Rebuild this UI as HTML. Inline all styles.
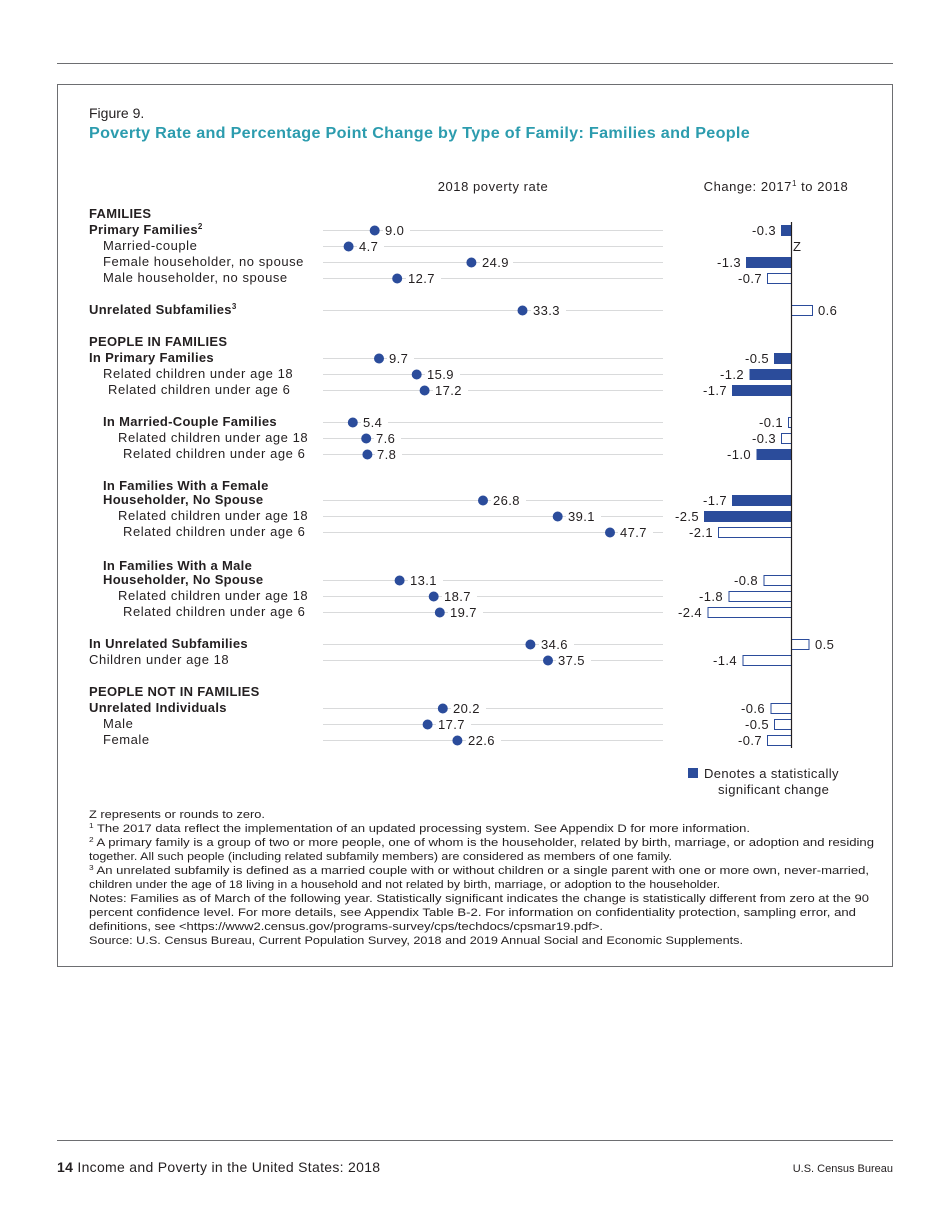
<!DOCTYPE html>
<html><head><meta charset="utf-8"><style>
html,body{margin:0;padding:0;background:#fff}
svg{display:block}
text{font-family:"Liberation Sans",sans-serif;fill:#231f20}
.l{font-size:13px;letter-spacing:0.55px}
.b{font-weight:bold;letter-spacing:0.3px}
.v{font-size:13px;fill:#808285;letter-spacing:0.4px}
.c{font-size:13px;letter-spacing:0.4px}
.f{font-size:11px}
</style></head><body>
<svg width="950" height="1230" viewBox="0 0 950 1230" xmlns="http://www.w3.org/2000/svg">
<line x1="57" y1="63.5" x2="893" y2="63.5" stroke="#6d6e71" stroke-width="1"/>
<rect x="57.5" y="84.5" width="835" height="882" fill="none" stroke="#6d6e71" stroke-width="1"/>
<text x="89" y="118" style="font-size:14px">Figure 9.</text>
<text x="89" y="138" class="b" style="font-size:16px;fill:#2c9cae" textLength="661" lengthAdjust="spacingAndGlyphs">Poverty Rate and Percentage Point Change by Type of Family: Families and People</text>
<text x="493" y="191" class="l" text-anchor="middle">2018 poverty rate</text>
<text x="776" y="191" class="l" text-anchor="middle">Change: 2017<tspan font-size="8" dy="-5">1</tspan><tspan dy="5"> to 2018</tspan></text>

<g class="l">
<text x="89" y="218" class="b">FAMILIES</text>
<text x="89" y="234" class="b">Primary Families<tspan font-size="8" dy="-5">2</tspan></text>
<text x="103" y="250">Married-couple</text>
<text x="103" y="266">Female householder, no spouse</text>
<text x="103" y="282">Male householder, no spouse</text>
<text x="89" y="314" class="b">Unrelated Subfamilies<tspan font-size="8" dy="-5">3</tspan></text>
<text x="89" y="346" class="b">PEOPLE IN FAMILIES</text>
<text x="89" y="362" class="b">In Primary Families</text>
<text x="103" y="378">Related children under age 18</text>
<text x="108" y="394">Related children under age 6</text>
<text x="103" y="426" class="b">In Married-Couple Families</text>
<text x="118" y="442">Related children under age 18</text>
<text x="123" y="458">Related children under age 6</text>
<text x="103" y="490" class="b">In Families With a Female</text>
<text x="103" y="504" class="b">Householder, No Spouse</text>
<text x="118" y="520">Related children under age 18</text>
<text x="123" y="536">Related children under age 6</text>
<text x="103" y="570" class="b">In Families With a Male</text>
<text x="103" y="584" class="b">Householder, No Spouse</text>
<text x="118" y="600">Related children under age 18</text>
<text x="123" y="616">Related children under age 6</text>
<text x="89" y="648" class="b">In Unrelated Subfamilies</text>
<text x="89" y="664">Children under age 18</text>
<text x="89" y="696" class="b">PEOPLE NOT IN FAMILIES</text>
<text x="89" y="712" class="b">Unrelated Individuals</text>
<text x="103" y="728">Male</text>
<text x="103" y="744">Female</text>
</g>

<g stroke="#d9dadb" stroke-width="1">
<line x1="323" y1="230.5" x2="663" y2="230.5"/>
<line x1="323" y1="246.5" x2="663" y2="246.5"/>
<line x1="323" y1="262.5" x2="663" y2="262.5"/>
<line x1="323" y1="278.5" x2="663" y2="278.5"/>
<line x1="323" y1="310.5" x2="663" y2="310.5"/>
<line x1="323" y1="358.5" x2="663" y2="358.5"/>
<line x1="323" y1="374.5" x2="663" y2="374.5"/>
<line x1="323" y1="390.5" x2="663" y2="390.5"/>
<line x1="323" y1="422.5" x2="663" y2="422.5"/>
<line x1="323" y1="438.5" x2="663" y2="438.5"/>
<line x1="323" y1="454.5" x2="663" y2="454.5"/>
<line x1="323" y1="500.5" x2="663" y2="500.5"/>
<line x1="323" y1="516.5" x2="663" y2="516.5"/>
<line x1="323" y1="532.5" x2="663" y2="532.5"/>
<line x1="323" y1="580.5" x2="663" y2="580.5"/>
<line x1="323" y1="596.5" x2="663" y2="596.5"/>
<line x1="323" y1="612.5" x2="663" y2="612.5"/>
<line x1="323" y1="644.5" x2="663" y2="644.5"/>
<line x1="323" y1="660.5" x2="663" y2="660.5"/>
<line x1="323" y1="708.5" x2="663" y2="708.5"/>
<line x1="323" y1="724.5" x2="663" y2="724.5"/>
<line x1="323" y1="740.5" x2="663" y2="740.5"/>
</g>

<g fill="#2b4c9b">
<circle cx="374.7" cy="230.5" r="5"/><circle cx="348.6" cy="246.5" r="5"/><circle cx="471.4" cy="262.5" r="5"/><circle cx="397.2" cy="278.5" r="5"/>
<circle cx="522.5" cy="310.5" r="5"/>
<circle cx="379" cy="358.5" r="5"/><circle cx="416.7" cy="374.5" r="5"/><circle cx="424.6" cy="390.5" r="5"/>
<circle cx="352.8" cy="422.5" r="5"/><circle cx="366.2" cy="438.5" r="5"/><circle cx="367.4" cy="454.5" r="5"/>
<circle cx="483" cy="500.5" r="5"/><circle cx="557.7" cy="516.5" r="5"/><circle cx="610" cy="532.5" r="5"/>
<circle cx="399.6" cy="580.5" r="5"/><circle cx="433.7" cy="596.5" r="5"/><circle cx="439.8" cy="612.5" r="5"/>
<circle cx="530.4" cy="644.5" r="5"/><circle cx="548" cy="660.5" r="5"/>
<circle cx="442.8" cy="708.5" r="5"/><circle cx="427.6" cy="724.5" r="5"/><circle cx="457.4" cy="740.5" r="5"/>
</g>
<g fill="#fff">
<rect x="383" y="224" width="27" height="13"/><rect x="357" y="240" width="27" height="13"/><rect x="480" y="256" width="33" height="13"/><rect x="406" y="272" width="35" height="13"/>
<rect x="531" y="304" width="35" height="13"/>
<rect x="387" y="352" width="27" height="13"/><rect x="425" y="368" width="35" height="13"/><rect x="433" y="384" width="35" height="13"/>
<rect x="361" y="416" width="27" height="13"/><rect x="374" y="432" width="27" height="13"/><rect x="375" y="448" width="27" height="13"/>
<rect x="491" y="494" width="35" height="13"/><rect x="566" y="510" width="35" height="13"/><rect x="618" y="526" width="35" height="13"/>
<rect x="408" y="574" width="35" height="13"/><rect x="442" y="590" width="35" height="13"/><rect x="448" y="606" width="35" height="13"/>
<rect x="539" y="638" width="35" height="13"/><rect x="556" y="654" width="35" height="13"/>
<rect x="451" y="702" width="35" height="13"/><rect x="436" y="718" width="35" height="13"/><rect x="466" y="734" width="35" height="13"/>
</g>
<g class="v">
<text x="385" y="235">9.0</text><text x="359" y="251">4.7</text><text x="482" y="267">24.9</text><text x="408" y="283">12.7</text>
<text x="533" y="315">33.3</text>
<text x="389" y="363">9.7</text><text x="427" y="379">15.9</text><text x="435" y="395">17.2</text>
<text x="363" y="427">5.4</text><text x="376" y="443">7.6</text><text x="377" y="459">7.8</text>
<text x="493" y="505">26.8</text><text x="568" y="521">39.1</text><text x="620" y="537">47.7</text>
<text x="410" y="585">13.1</text><text x="444" y="601">18.7</text><text x="450" y="617">19.7</text>
<text x="541" y="649">34.6</text><text x="558" y="665">37.5</text>
<text x="453" y="713">20.2</text><text x="438" y="729">17.7</text><text x="468" y="745">22.6</text>
</g>

<g fill="#2b4c9b">
<rect x="781" y="225" width="10.5" height="11"/>
<rect x="746" y="257" width="45.5" height="11"/>
<rect x="774" y="353" width="17.5" height="11"/>
<rect x="749.5" y="369" width="42" height="11"/>
<rect x="732" y="385" width="59.5" height="11"/>
<rect x="756.5" y="449" width="35" height="11"/>
<rect x="732" y="495" width="59.5" height="11"/>
<rect x="704" y="511" width="87.5" height="11"/>
</g>
<g fill="#fff" stroke="#2b4c9b" stroke-width="1">
<rect x="767.5" y="273.5" width="24" height="10"/>
<rect x="791.5" y="305.5" width="21" height="10"/>
<rect x="788.5" y="417.5" width="3" height="10"/>
<rect x="781.5" y="433.5" width="10" height="10"/>
<rect x="718.5" y="527.5" width="73" height="10"/>
<rect x="764" y="575.5" width="27.5" height="10"/>
<rect x="729" y="591.5" width="62.5" height="10"/>
<rect x="708" y="607.5" width="83.5" height="10"/>
<rect x="791.5" y="639.5" width="17.5" height="10"/>
<rect x="743" y="655.5" width="48.5" height="10"/>
<rect x="771" y="703.5" width="20.5" height="10"/>
<rect x="774.5" y="719.5" width="17" height="10"/>
<rect x="767.5" y="735.5" width="24" height="10"/>
</g>
<line x1="791.5" y1="222" x2="791.5" y2="748" stroke="#231f20" stroke-width="1.2"/>
<g class="c" text-anchor="end">
<text x="776" y="235">-0.3</text>
<text x="741" y="267">-1.3</text>
<text x="762" y="283">-0.7</text>
<text x="769" y="363">-0.5</text>
<text x="744" y="379">-1.2</text>
<text x="727" y="395">-1.7</text>
<text x="783" y="427">-0.1</text>
<text x="776" y="443">-0.3</text>
<text x="751" y="459">-1.0</text>
<text x="727" y="505">-1.7</text>
<text x="699" y="521">-2.5</text>
<text x="713" y="537">-2.1</text>
<text x="758" y="585">-0.8</text>
<text x="723" y="601">-1.8</text>
<text x="702" y="617">-2.4</text>
<text x="737" y="665">-1.4</text>
<text x="765" y="713">-0.6</text>
<text x="769" y="729">-0.5</text>
<text x="762" y="745">-0.7</text>
</g>
<text x="793" y="251" class="c">Z</text>
<text x="818" y="315" class="c">0.6</text>
<text x="815" y="649" class="c">0.5</text>

<rect x="688" y="768" width="10" height="10" fill="#2b4c9b"/>
<text x="704" y="778" class="c">Denotes a statistically</text>
<text x="718" y="794" class="c">significant change</text>

<g class="f">
<text x="89" y="818" textLength="176" lengthAdjust="spacingAndGlyphs">Z represents or rounds to zero.</text>
<text x="89" y="832" textLength="661" lengthAdjust="spacingAndGlyphs"><tspan font-size="7" dy="-4">1</tspan><tspan dy="4"> The 2017 data reflect the implementation of an updated processing system. See Appendix D for more information.</tspan></text>
<text x="89" y="846" textLength="785" lengthAdjust="spacingAndGlyphs"><tspan font-size="7" dy="-4">2</tspan><tspan dy="4"> A primary family is a group of two or more people, one of whom is the householder, related by birth, marriage, or adoption and residing</tspan></text>
<text x="89" y="860" textLength="583" lengthAdjust="spacingAndGlyphs">together. All such people (including related subfamily members) are considered as members of one family.</text>
<text x="89" y="874" textLength="780" lengthAdjust="spacingAndGlyphs"><tspan font-size="7" dy="-4">3</tspan><tspan dy="4"> An unrelated subfamily is defined as a married couple with or without children or a single parent with one or more own, never-married,</tspan></text>
<text x="89" y="888" textLength="631" lengthAdjust="spacingAndGlyphs">children under the age of 18 living in a household and not related by birth, marriage, or adoption to the householder.</text>
<text x="89" y="902" textLength="780" lengthAdjust="spacingAndGlyphs">Notes: Families as of March of the following year. Statistically significant indicates the change is statistically different from zero at the 90</text>
<text x="89" y="916" textLength="767" lengthAdjust="spacingAndGlyphs">percent confidence level. For more details, see Appendix Table B-2. For information on confidentiality protection, sampling error, and</text>
<text x="89" y="930" textLength="514" lengthAdjust="spacingAndGlyphs">definitions, see &lt;https://www2.census.gov/programs-survey/cps/techdocs/cpsmar19.pdf&gt;.</text>
<text x="89" y="944" textLength="654" lengthAdjust="spacingAndGlyphs">Source: U.S. Census Bureau, Current Population Survey, 2018 and 2019 Annual Social and Economic Supplements.</text>
</g>

<line x1="57" y1="1140.5" x2="893" y2="1140.5" stroke="#6d6e71" stroke-width="1"/>
<text x="57" y="1172" style="font-size:14px;letter-spacing:0.3px"><tspan font-weight="bold">14</tspan> Income and Poverty in the United States: 2018</text>
<text x="893" y="1172" text-anchor="end" style="font-size:11px">U.S. Census Bureau</text>
</svg>
</body></html>
